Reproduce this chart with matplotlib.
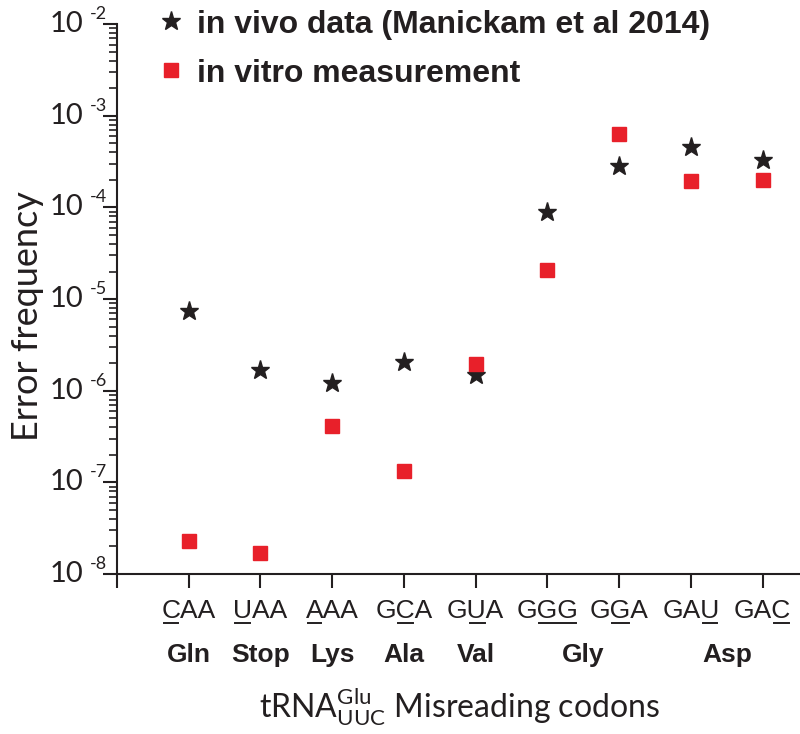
import matplotlib
matplotlib.use("Agg")
import matplotlib.pyplot as plt
import matplotlib.transforms as mtransforms
from matplotlib.textpath import TextToPath
from matplotlib.font_manager import FontProperties
from matplotlib.ticker import LogLocator, NullFormatter
import numpy as np

codons = ["CAA", "UAA", "AAA", "GCA", "GUA", "GGG", "GGA", "GAU", "GAC"]
underlined = [(0, 1), (0, 1), (0, 1), (1, 2), (1, 2), (1, 3), (1, 2), (2, 3), (2, 3)]  # letter spans
amino_acids = ["Gln", "Stop", "Lys", "Ala", "Val", "Gly", "Asp"]
amino_pos = [0, 1, 2, 3, 4, 5.5, 7.5]
decades = [-8, -7, -6, -5, -4, -3, -2]
in_vivo = [7.4e-6, 1.7e-6, 1.22e-6, 2.07e-6, 1.48e-6, 9.0e-5, 2.85e-4, 4.6e-4, 3.3e-4]
in_vitro = [2.3e-8, 1.7e-8, 4.1e-7, 1.34e-7, 1.98e-6, 2.1e-5, 6.4e-4, 1.95e-4, 2.0e-4]

thin = "Lato"
ink = "#231f20"
plt.rcParams["mathtext.fontset"] = "custom"
plt.rcParams["mathtext.rm"] = thin
plt.rcParams["mathtext.it"] = thin
plt.rcParams["mathtext.default"] = "regular"

fig = plt.figure(figsize=(8, 7.34), dpi=100)
ax = fig.add_axes([0.146, 0.218, 0.854, 0.749])

x = np.arange(len(codons))
ax.plot(x, in_vivo, linestyle="none", marker="*", markersize=14,
        color=ink, label="in vivo data (Manickam et al 2014)")
ax.plot(x, in_vitro, linestyle="none", marker="s", markersize=9.5,
        color="#e8202a", label="in vitro measurement")

ax.set_yscale("log")
ax.set_ylim(1e-8, 1e-2)
ax.set_xlim(-1, 8.52)

ax.spines["top"].set_visible(False)
ax.spines["right"].set_visible(False)
for s in ["left", "bottom"]:
    ax.spines[s].set_linewidth(1.5)
    ax.spines[s].set_color(ink)

ax.set_xticks(np.arange(-1, 9))
ax.set_xticklabels([])
ax.tick_params(axis="x", direction="out", length=10, width=1.5, color=ink)
ax.yaxis.set_major_locator(LogLocator(base=10, numticks=20))
ax.yaxis.set_minor_locator(LogLocator(base=10, subs=np.arange(2, 10), numticks=20))
ax.yaxis.set_major_formatter(NullFormatter())
ax.yaxis.set_minor_formatter(NullFormatter())
ax.tick_params(axis="y", which="major", direction="out", length=10, width=1.5, color=ink)
ax.tick_params(axis="y", which="minor", direction="out", length=6, width=1.2, color=ink)

# y tick labels: "10" with a small raised exponent
ytr = mtransforms.blended_transform_factory(ax.transAxes, ax.transData)
up = mtransforms.ScaledTranslation(0, 0.1, fig.dpi_scale_trans)
for d in decades:
    ax.text(-0.049, 10.0 ** d, "10", transform=ytr, ha="right", va="center",
            fontsize=21, fontfamily=thin, color=ink)
    ax.text(-0.039, 10.0 ** d, "%d" % d, transform=ytr + up, ha="left", va="center",
            fontsize=13, fontfamily=thin, color=ink)

ax.text(-0.13, 0.47, "Error frequency", transform=ax.transAxes, rotation=90,
        ha="center", va="center", fontsize=26, fontfamily=thin, color=ink)

# codon labels with underlined letters
trans = mtransforms.blended_transform_factory(ax.transData, ax.transAxes)
fp = FontProperties(family="Liberation Sans", size=19)
t2p = TextToPath()
for i, (cod, (k0, k1)) in enumerate(zip(codons, underlined)):
    ax.text(i, -0.0809, cod, transform=trans, ha="center", va="baseline",
            fontproperties=fp, color=ink)
    total = t2p.get_text_width_height_descent(cod, fp, ismath=False)[0]
    a = t2p.get_text_width_height_descent(cod[:k0], fp, ismath=False)[0] if k0 else 0
    b = t2p.get_text_width_height_descent(cod[:k1], fp, ismath=False)[0]
    x0 = (a - total / 2 + 1.5) / 72
    x1 = (b - total / 2 - 1.5) / 72
    p0 = (trans + mtransforms.ScaledTranslation(x0, 0, fig.dpi_scale_trans)).transform((i, -0.0891))
    p1 = (trans + mtransforms.ScaledTranslation(x1, 0, fig.dpi_scale_trans)).transform((i, -0.0891))
    ln = plt.Line2D([p0[0], p1[0]], [p0[1], p1[1]], transform=None,
                    color=ink, linewidth=1.4, clip_on=False)
    fig.lines.append(ln)

for name, pos in zip(amino_acids, amino_pos):
    ax.text(pos, -0.1599, name, transform=trans, ha="center", va="baseline",
            fontsize=19, fontweight="bold", fontfamily="Liberation Sans", color=ink)

ax.text(0.502, -0.2618, r"tRNA$^{Glu}_{UUC}$ Misreading codons", transform=ax.transAxes,
        ha="center", va="baseline", fontsize=23, fontfamily=thin, color=ink)

leg = ax.legend(loc="upper left", bbox_to_anchor=(0.035, 1.05), frameon=False,
                prop=FontProperties(family="Liberation Sans", weight="bold", size=23),
                handletextpad=0.25, labelspacing=0.6, handlelength=1.1,
                borderaxespad=0)
for t in leg.get_texts():
    t.set_color(ink)

fig.savefig("out.png", dpi=100)
